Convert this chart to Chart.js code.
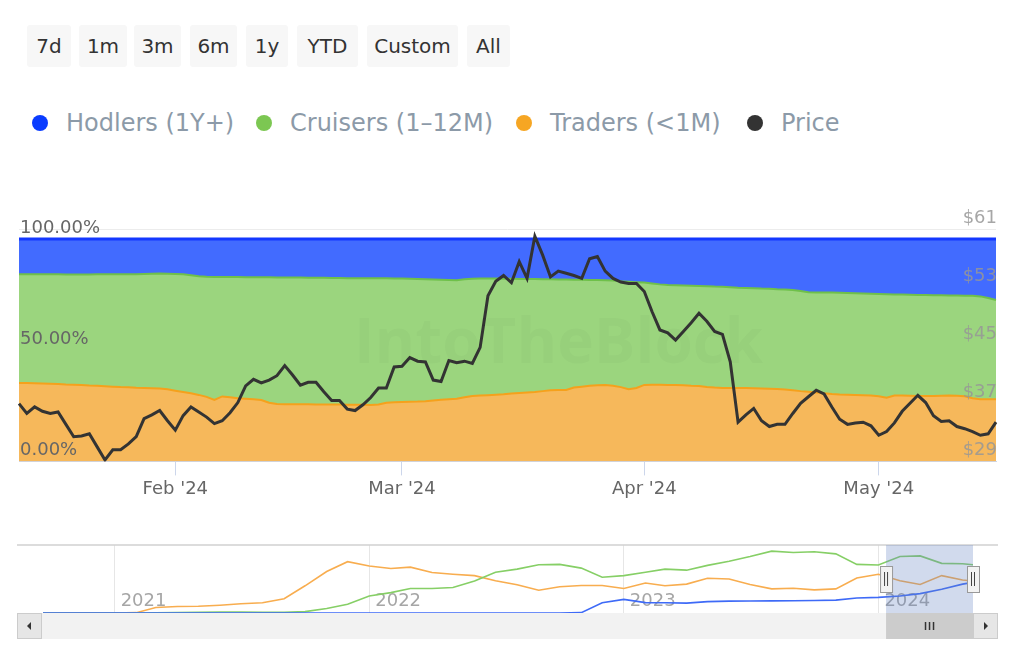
<!DOCTYPE html>
<html>
<head>
<meta charset="utf-8">
<title>Holders by time held</title>
<script src="https://cdn.jsdelivr.net/npm/chart.js@4.4.1/dist/chart.umd.min.js"></script>
<style>
  html, body { margin: 0; padding: 0; background: #fff; }
  body { width: 1024px; height: 664px; position: relative; overflow: hidden; font-family: "DejaVu Sans", sans-serif; }
  .btn { position: absolute; top: 25px; height: 42px; line-height: 42px; background: #f7f7f7; color: #333; font-size: 20px; text-align: center; border-radius: 3px; }
  .leg { position: absolute; top: 108px; height: 30px; line-height: 30px; font-size: 24px; color: #8c9aa8; white-space: nowrap; }
  .leg i { position: absolute; left: -34px; top: 7px; width: 16px; height: 16px; border-radius: 50%; }
  canvas { position: absolute; left: 0; }
</style>
</head>
<body>
<div id="buttons"></div>
<div id="legend"></div>
<canvas id="main" width="1024" height="320" style="top:200px"></canvas>
<canvas id="nav" width="1024" height="115" style="top:530px"></canvas>
<script>
/* ── Range buttons + legend ── */
const rangeButtons = ['7d', '1m', '3m', '6m', '1y', 'YTD', 'Custom', 'All'];
const legendNames  = ['Hodlers (1Y+)', 'Cruisers (1–12M)', 'Traders (<1M)', 'Price'];

// layout only
const buttonLeft  = [27, 79, 134, 190, 246, 297, 367, 467];
const buttonWidth = [44, 48, 47, 47, 42, 61, 91, 43];
const legendLeft  = [66, 290, 550, 781];
const legendColor = ['#0a3cff', '#7cc752', '#f6a623', '#333333'];

/* ── Main chart data: daily, 12 Jan 2024 → 16 May 2024 ── */
const firstDay = [2024, 0, 12];
const monthNames = ['Jan', 'Feb', 'Mar', 'Apr', 'May', 'Jun', 'Jul', 'Aug', 'Sep', 'Oct', 'Nov', 'Dec'];
const pctTicks = [0, 50, 100];

// share of addresses, %
const traders = [
  35.3,35.2,35.1,35.0,34.9,34.8,34.6,34.5,34.3,34.1,
  34.0,33.8,33.6,33.4,33.3,33.1,33.0,32.9,32.8,32.4,
  31.8,31.2,30.6,29.9,29.0,27.6,29.2,28.8,28.4,28.2,
  27.9,27.6,26.4,25.8,25.7,25.7,25.7,25.7,25.6,25.6,
  25.6,25.6,25.5,25.5,25.5,25.4,25.6,26.4,26.6,26.7,
  26.8,26.9,27.1,27.4,27.7,28.0,28.2,28.8,29.4,29.6,
  29.8,30.0,30.2,30.5,30.8,31.0,31.2,31.6,32.0,32.1,
  32.1,33.2,33.6,34.0,34.2,34.3,34.0,33.4,32.5,33.0,
  34.4,34.5,34.5,34.4,34.3,34.2,34.0,33.9,33.5,33.2,
  33.0,33.0,33.0,33.0,32.9,32.8,32.7,32.6,32.3,32.0,
  31.6,31.3,31.0,30.6,30.3,30.1,30.0,29.9,29.8,29.6,
  29.3,28.6,29.6,29.6,29.5,29.4,29.4,29.4,29.5,29.6,
  29.5,29.3,28.4,27.9,27.9,27.9
];
const cruisers = [
  48.8,48.9,49.0,49.1,49.2,49.3,49.4,49.5,49.7,49.9,
  50.1,50.3,50.5,50.7,50.9,51.1,51.3,51.5,51.7,52.0,
  52.5,52.9,53.1,53.4,54.0,55.3,53.7,54.1,54.5,54.6,
  54.9,55.2,56.4,56.9,57.0,57.0,57.0,56.9,57.0,57.0,
  56.9,56.9,56.9,56.9,56.9,56.9,56.7,55.9,55.6,55.5,
  55.3,55.1,54.8,54.4,54.0,53.6,53.3,53.1,52.7,52.6,
  52.4,52.2,51.9,51.6,51.2,51.0,50.8,50.3,49.9,49.7,
  49.7,48.5,48.1,47.6,47.4,47.2,47.3,47.6,48.3,47.6,
  46.0,45.5,45.1,44.9,44.9,44.9,45.0,45.0,45.3,45.4,
  45.5,45.3,45.1,45.0,45.0,44.9,44.9,44.8,45.0,45.1,
  45.0,44.8,45.0,45.3,45.6,45.7,45.7,45.7,45.7,45.8,
  46.0,46.6,45.5,45.4,45.4,45.4,45.4,45.3,45.2,45.0,
  45.1,45.2,46.1,46.3,45.6,44.7
];
const hodlers = [
  15.9,15.9,15.9,15.9,15.9,15.9,16.0,16.0,16.0,16.0,
  15.9,15.9,15.9,15.9,15.8,15.8,15.7,15.6,15.5,15.6,
  15.7,15.9,16.3,16.7,17.0,17.1,17.1,17.1,17.1,17.2,
  17.2,17.2,17.2,17.3,17.3,17.3,17.3,17.4,17.4,17.4,
  17.5,17.5,17.6,17.6,17.6,17.7,17.7,17.7,17.8,17.8,
  17.9,18.0,18.1,18.2,18.3,18.4,18.5,18.1,17.9,17.8,
  17.8,17.8,17.9,17.9,18.0,18.0,18.0,18.1,18.1,18.2,
  18.2,18.3,18.3,18.4,18.4,18.5,18.7,19.0,19.2,19.4,
  19.6,20.0,20.4,20.7,20.8,20.9,21.0,21.1,21.2,21.4,
  21.5,21.7,21.9,22.0,22.1,22.3,22.4,22.6,22.7,22.9,
  23.4,23.9,24.0,24.1,24.1,24.2,24.3,24.4,24.5,24.6,
  24.7,24.8,24.9,25.0,25.1,25.2,25.2,25.3,25.3,25.4,
  25.4,25.5,25.5,25.8,26.5,27.4
];
// USD
const price = [
  36.96,35.6,36.5,35.9,35.6,35.8,34.1,32.4,32.5,32.8,
  31.0,29.2,30.6,30.6,31.4,32.4,34.9,35.4,36.0,34.6,
  33.3,35.3,36.5,35.8,35.1,34.2,34.6,35.7,37.1,39.4,
  40.3,39.8,40.2,40.8,42.2,40.9,39.5,39.9,39.9,38.6,
  37.4,37.4,36.2,36.0,36.8,37.8,39.1,39.1,42.0,42.1,
  43.3,42.8,42.7,40.2,40.0,42.9,42.6,42.8,42.5,44.7,
  51.8,53.8,54.6,53.6,56.5,54.2,60.0,57.4,54.4,55.2,
  54.9,54.6,54.2,56.9,57.2,55.2,54.2,53.7,53.5,53.5,
  52.4,49.6,47.1,46.7,45.7,46.9,48.1,49.4,48.3,46.9,
  46.5,42.7,34.4,35.4,36.3,34.6,33.8,34.1,34.1,35.6,
  37.0,37.9,38.8,38.3,36.5,34.8,34.1,34.3,34.4,33.9,
  32.6,33.1,34.3,35.9,37.0,38.1,37.1,35.3,34.5,34.6,
  33.8,33.5,33.1,32.6,32.8,34.4
];

/* ── Navigator data (full history, monthly) ── */
const navDates = [
  '2020-09-20','2020-10-01','2020-11-01','2020-12-01',
  '2021-01-01','2021-02-01','2021-03-01','2021-04-01','2021-05-01','2021-06-01',
  '2021-07-01','2021-08-01','2021-09-01','2021-10-01','2021-11-01','2021-12-01',
  '2022-01-01','2022-02-01','2022-03-01','2022-04-01','2022-05-01','2022-06-01',
  '2022-07-01','2022-08-01','2022-09-01','2022-10-01','2022-11-01','2022-12-01',
  '2023-01-01','2023-02-01','2023-03-01','2023-04-01','2023-05-01','2023-06-01',
  '2023-07-01','2023-08-01','2023-09-01','2023-10-01','2023-11-01','2023-12-01',
  '2024-01-01','2024-02-01','2024-03-01','2024-04-01','2024-05-01','2024-05-16'
];
const navTraders = [
  0,0,0,0, 0,0.5,8,9.5,10,11.5, 13.5,15,21,40,61,75.5,
  69,65.5,67.5,59.5,57,55, 47.5,41.5,33.5,38.5,40.5,40.5,
  36,44,40,42.5,51,50, 42,35.5,36.5,34,35.5,51.5,
  57,47.5,42,55,48.5,47
];
const navCruisers = [
  0,0,0,0, 0,0,0.3,0.5,1,1.5, 1.5,1.2,1.2,2,6.5,13,
  25,30,36,36,37.5,47, 60,64.5,71,71.5,66,52.5,
  55,60,64.5,63,70,76, 83,91,89,90,87,71.5,
  70.5,83,84,73,72.5,71
];
const navHodlers = [
  0,0,0,0, 0,0,0,0,0,0, 0,0,0,0,0,0,
  0,0,0,0,0,0, 0,0,0,0,0.5,15.2,
  20,15.2,15,14.5,16.7,17.5, 17.6,17.8,18,18.3,19,22,
  23,25,28.5,35,42.5,45
];
const navYears = [2021, 2022, 2023, 2024];
const selStart = '2024-01-12';
const selEnd   = '2024-05-16';

/* ── helpers ── */
const days = price.map((_, i) => new Date(Date.UTC(firstDay[0], firstDay[1], firstDay[2] + i)).toISOString().slice(0, 10));

function monthLabel(d) {
  return monthNames[+d.slice(5, 7) - 1] + " '" + d.slice(2, 4);
}
function toYear(s) {
  const d = new Date(s + 'T00:00:00Z');
  const y = d.getUTCFullYear();
  const a = Date.UTC(y, 0, 1), b = Date.UTC(y + 1, 0, 1);
  return y + (d - a) / (b - a);
}

/* ── html chrome ── */
const btnBox = document.getElementById('buttons');
rangeButtons.forEach((t, i) => {
  const el = document.createElement('div');
  el.className = 'btn';
  el.style.left = buttonLeft[i] + 'px';
  el.style.width = buttonWidth[i] + 'px';
  el.textContent = t;
  btnBox.appendChild(el);
});
const legBox = document.getElementById('legend');
legendNames.forEach((t, i) => {
  const el = document.createElement('div');
  el.className = 'leg';
  el.style.left = legendLeft[i] + 'px';
  el.innerHTML = '<i style="background:' + legendColor[i] + '"></i>';
  el.appendChild(document.createTextNode(t));
  legBox.appendChild(el);
});

Chart.defaults.font.family = '"DejaVu Sans", sans-serif';
Chart.defaults.animation = false;
Chart.defaults.events = [];

// faint watermark in the middle of the plot
const watermark = {
  id: 'watermark',
  afterDatasetsDraw(chart) {
    const { ctx, chartArea: a } = chart;
    ctx.save();
    ctx.fillStyle = 'rgba(0,0,0,0.025)';
    ctx.font = 'bold 62px "Open Sans", sans-serif';
    ctx.textBaseline = 'middle';
    ctx.fillText('IntoTheBlock', a.left + 335, a.top + 116);
    ctx.restore();
  }
};

/* ── Chart 1: stacked holder shares + price ── */
new Chart(document.getElementById('main'), {
  type: 'line',
  data: {
    labels: days,
    datasets: [
      {
        label: 'Price', data: price, yAxisID: 'y2',
        borderColor: '#333333', borderWidth: 3, pointRadius: 0, fill: false, tension: 0, order: 0
      },
      {
        label: 'Traders (<1M)', data: traders, yAxisID: 'y', stack: 'pct',
        borderColor: '#f5a11c', backgroundColor: '#f6b85b', borderWidth: 2, pointRadius: 0, fill: 'origin', order: 1
      },
      {
        label: 'Cruisers (1–12M)', data: cruisers, yAxisID: 'y', stack: 'pct',
        borderColor: '#6fc04a', backgroundColor: '#9bd57e', borderWidth: 2, pointRadius: 0, fill: '-1', order: 1
      },
      {
        label: 'Hodlers (1Y+)', data: hodlers, yAxisID: 'y', stack: 'pct',
        borderColor: '#1438ff', backgroundColor: '#426bff', borderWidth: 3, pointRadius: 0, fill: '-1', order: 1
      }
    ]
  },
  options: {
    responsive: false,
    layout: { padding: { left: 17, right: 26, top: 29, bottom: 17 } },
    plugins: { legend: { display: false }, tooltip: { enabled: false } },
    scales: {
      x: {
        type: 'category',
        offset: false,
        grid: { drawOnChartArea: false, drawTicks: true, tickLength: 14, color: '#ccd6eb' },
        border: { display: true, color: '#ccd6eb' },
        ticks: {
          autoSkip: false, maxRotation: 0, padding: 3, color: '#666', font: { size: 18 },
          callback: (v) => monthLabel(days[v])
        },
        afterBuildTicks: (axis) => {
          axis.ticks = axis.ticks.filter(t => days[t.value].endsWith('-01'));
        }
      },
      y: {
        position: 'left', stacked: true, min: 0, max: 104.5,
        grid: { display: false, drawTicks: false },
        border: { display: false },
        ticks: {
          z: 1, mirror: true, padding: 1, labelOffset: -11, color: '#666', font: { size: 18 },
          callback: (v) => v.toFixed(2) + '%'
        },
        afterBuildTicks: (axis) => { axis.ticks = pctTicks.map(v => ({ value: v })); }
      },
      y2: {
        position: 'right', min: 29, max: 61,
        grid: { color: '#ececec', drawTicks: false },
        border: { display: false },
        ticks: {
          z: 1, mirror: true, stepSize: 8, padding: 1, labelOffset: -11, color: 'rgba(150,150,150,0.85)', font: { size: 18 },
          callback: (v) => '$' + v
        }
      }
    }
  },
  plugins: [watermark]
});

/* ── Chart 2: navigator ── */
const navChrome = {
  id: 'navChrome',
  beforeDatasetsDraw(chart) {
    const { ctx, chartArea: a, scales: { x } } = chart;
    ctx.save();
    ctx.fillStyle = '#a6a6a6';
    ctx.font = '18px "DejaVu Sans", sans-serif';
    ctx.textBaseline = 'middle';
    navYears.forEach(y => ctx.fillText(String(y), x.getPixelForValue(y) + 6, a.bottom - 12));
    ctx.restore();
  },
  afterDraw(chart) {
    const { ctx, chartArea: a, scales: { x } } = chart;
    const x0 = x.getPixelForValue(toYear(selStart));
    const x1 = x.getPixelForValue(toYear(selEnd));
    const left = a.left - 26, right = a.right + 25;
    const sy = a.bottom, sh = 26;
    ctx.save();
    // outline
    ctx.strokeStyle = '#d0d0d0';
    ctx.lineWidth = 1.5;
    ctx.beginPath(); ctx.moveTo(left, a.top); ctx.lineTo(right, a.top); ctx.stroke();
    // selected range mask
    ctx.fillStyle = 'rgba(102,133,194,0.3)';
    ctx.fillRect(x0, a.top, x1 - x0, a.bottom - a.top);
    // scrollbar track + buttons
    ctx.fillStyle = '#f2f2f2';
    ctx.fillRect(left, sy, right - left, sh);
    ctx.fillStyle = '#e6e6e6';
    ctx.fillRect(left, sy, 25, sh);
    ctx.fillRect(right - 25, sy, 25, sh);
    ctx.strokeStyle = '#cccccc'; ctx.lineWidth = 1;
    ctx.strokeRect(left + 0.5, sy + 0.5, 24, sh - 1);
    ctx.strokeRect(right - 24.5, sy + 0.5, 24, sh - 1);
    ctx.fillStyle = '#333';
    ctx.beginPath(); ctx.moveTo(left + 10, sy + 13); ctx.lineTo(left + 14, sy + 9); ctx.lineTo(left + 14, sy + 17); ctx.fill();
    ctx.beginPath(); ctx.moveTo(right - 10, sy + 13); ctx.lineTo(right - 14, sy + 9); ctx.lineTo(right - 14, sy + 17); ctx.fill();
    // scrollbar thumb
    ctx.fillStyle = '#cccccc';
    ctx.fillRect(x0, sy, x1 - x0, sh);
    const cx = (x0 + x1) / 2;
    ctx.strokeStyle = '#333'; ctx.lineWidth = 1.5;
    [-4, 0, 4].forEach(d => { ctx.beginPath(); ctx.moveTo(cx + d, sy + 9); ctx.lineTo(cx + d, sy + 17); ctx.stroke(); });
    // handles
    [x0, x1].forEach(hx => {
      ctx.fillStyle = '#f2f2f2'; ctx.strokeStyle = '#999'; ctx.lineWidth = 1;
      ctx.fillRect(hx - 6, a.top + 21, 12, 26);
      ctx.strokeRect(hx - 6 + 0.5, a.top + 21.5, 12, 26);
      ctx.strokeStyle = '#444';
      [-1.5, 1.5].forEach(d => { ctx.beginPath(); ctx.moveTo(hx + d, a.top + 27); ctx.lineTo(hx + d, a.top + 41); ctx.stroke(); });
    });
    ctx.restore();
  }
};

const navPoints = (vals) => vals.map((v, i) => ({ x: toYear(navDates[i]), y: v }));

new Chart(document.getElementById('nav'), {
  type: 'line',
  data: {
    datasets: [
      { data: navPoints(navHodlers),  borderColor: '#3e6af7', borderWidth: 1.6, pointRadius: 0, tension: 0 },
      { data: navPoints(navCruisers), borderColor: '#86cf66', borderWidth: 1.6, pointRadius: 0, tension: 0 },
      { data: navPoints(navTraders),  borderColor: '#f8ad4f', borderWidth: 1.6, pointRadius: 0, tension: 0 }
    ]
  },
  options: {
    responsive: false,
    layout: { padding: { left: 43, right: 51, top: 15, bottom: 32 } },
    plugins: { legend: { display: false }, tooltip: { enabled: false } },
    scales: {
      x: {
        type: 'linear',
        min: toYear(navDates[0]), max: toYear(navDates[navDates.length - 1]),
        grid: { color: '#e6e6e6', drawTicks: false },
        border: { display: false },
        ticks: { display: false },
        afterBuildTicks: (axis) => { axis.ticks = navYears.map(v => ({ value: v })); }
      },
      y: { display: false, min: 0, max: 100 }
    }
  },
  plugins: [navChrome]
});
</script>
</body>
</html>
